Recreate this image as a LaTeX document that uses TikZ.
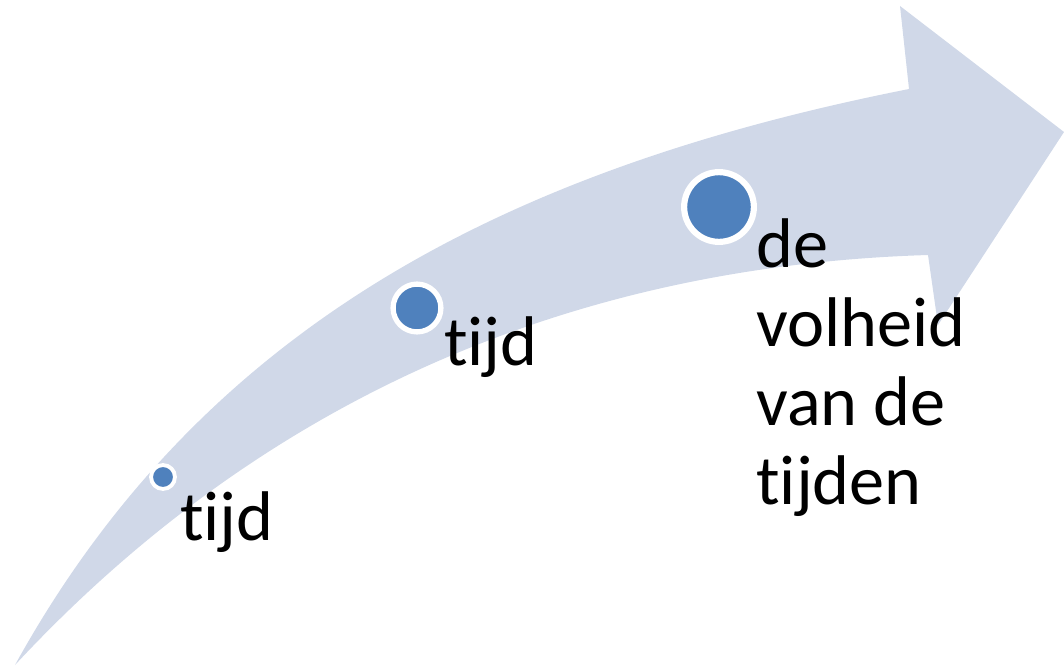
\documentclass[tikz,border=0pt]{standalone}
\usepackage{fontspec}
\setmainfont{Carlito}[Ligatures=NoCommon]
\definecolor{band}{RGB}{208,216,232}
\definecolor{dot}{RGB}{79,129,189}
\begin{document}
\begin{tikzpicture}[x=0.02cm,y=-0.02cm,
  dotnode/.style={circle,fill=dot,draw=white,line width=#1,inner sep=0pt},
  lbl/.style={inner sep=0pt,anchor=base west,align=left,font=\fontsize{40pt}{44.8pt}\selectfont}]
\useasboundingbox (0,0) rectangle (1064,669);
\fill[band] (15,665) .. controls (200,330) and (500,170) .. (909,89)
  -- (900,6) -- (1064,132) -- (938,325) -- (928,255)
  .. controls (600,265) and (280,380) .. (15,665) -- cycle;
\node[dotnode=2.2pt,minimum size=24pt*0.567] (c1) at (163,477) {};
\node[dotnode=3pt,minimum size=48pt*0.567] (c2) at (417,308) {};
\node[dotnode=3.5pt,minimum size=70pt*0.567] (c3) at (719,207) {};
\node[lbl] (t1) at (180,540) {tijd};
\node[lbl] (t2) at (444,365) {tijd};
\node[lbl] (t3) at (756,504) {de\\volheid\\van de\\tijden};
\end{tikzpicture}
\end{document}
